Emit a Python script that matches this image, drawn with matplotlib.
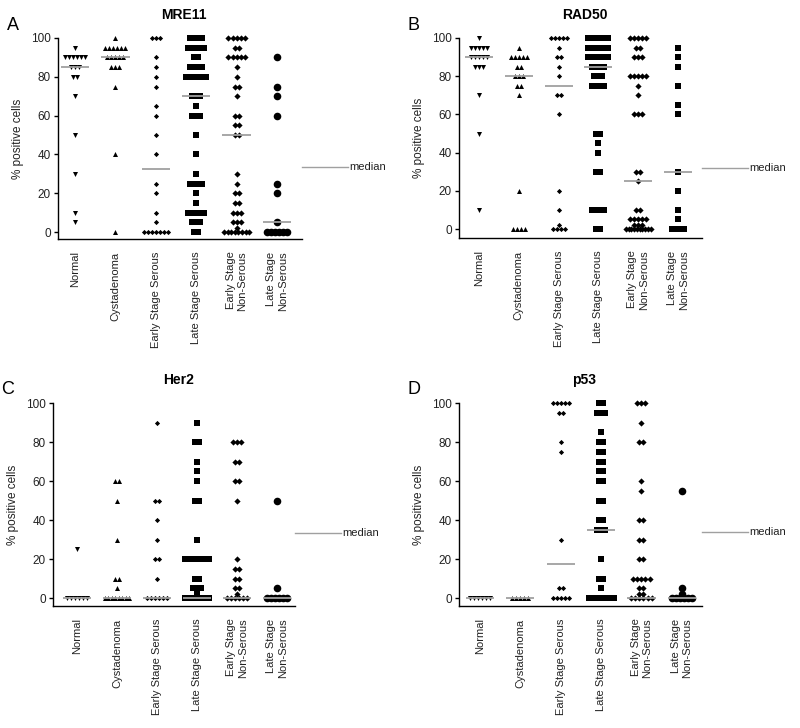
import numpy as np
import matplotlib.pyplot as plt
from matplotlib.lines import Line2D

plt.rcParams['font.family'] = ['Liberation Sans', 'DejaVu Sans']

# categories shared by all four panels
groups = ['Normal', 'Cystadenoma', 'Early Stage Serous', 'Late Stage Serous',
          'Early Stage\nNon-Serous', 'Late Stage\nNon-Serous']

# % positive cells per sample
mre11 = [
    [95] + [90]*6 + [85]*3 + [80]*2 + [70, 50, 30, 10, 5],
    [100] + [95]*6 + [90]*5 + [85]*3 + [75, 40, 0],
    [100]*3 + [90, 85, 80, 75, 65, 60, 50, 40, 25, 20, 10, 5] + [0]*7,
    [100]*4 + [95]*5 + [90]*2 + [85]*4 + [80]*6 + [70]*3 + [65] + [60]*3
    + [50, 40, 30] + [25]*4 + [20, 15] + [10]*5 + [5]*3 + [0]*2,
    [100]*5 + [95]*2 + [90]*5 + [85, 80] + [75]*2 + [70] + [60]*2 + [55]*2
    + [50]*2 + [30, 25] + [20]*2 + [15]*2 + [10]*3 + [5]*3 + [2] + [0]*8,
    [90, 75, 70, 60, 25, 20, 5] + [0]*6,
]
rad50 = [
    [100] + [95]*5 + [90]*5 + [85]*3 + [70, 50, 10],
    [95] + [90]*5 + [85]*2 + [80]*3 + [75]*2 + [70, 20] + [0]*4,
    [100]*5 + [95] + [90]*2 + [85, 80] + [70]*2 + [60, 20, 10, 2] + [0]*4,
    [100]*6 + [95]*6 + [90]*6 + [85]*4 + [80]*3 + [75]*4 + [50]*2
    + [45, 40] + [30]*2 + [10]*4 + [0]*2,
    [100]*5 + [95]*2 + [90]*3 + [80]*5 + [75, 70] + [60]*3 + [30]*2 + [25]
    + [10]*2 + [5]*5 + [2]*3 + [0]*10,
    [95, 90, 85, 75, 65, 60, 30, 20, 10, 5] + [0]*4,
]
her2 = [
    [25] + [0]*6,
    [60]*2 + [50, 30] + [10]*2 + [5] + [0]*8,
    [90] + [50]*2 + [40, 30] + [20]*2 + [10] + [0]*6,
    [90] + [80]*2 + [70, 65, 60] + [50]*2 + [30] + [20]*7 + [10]*2 + [5]*3
    + [2] + [0]*12,
    [80]*3 + [70]*2 + [60]*2 + [50, 20] + [15]*2 + [10]*2 + [5]*2 + [2] + [0]*6,
    [50, 5] + [0]*6,
]
p53 = [
    [0]*6,
    [0]*5,
    [100]*5 + [95]*2 + [80, 75, 30] + [5]*2 + [0]*5,
    [100]*2 + [95]*3 + [85] + [80]*2 + [75]*2 + [70]*2 + [65]*2 + [60]*2
    + [50]*2 + [40]*2 + [35]*3 + [20] + [10]*2 + [5] + [0]*12,
    [100]*3 + [90] + [80]*2 + [60, 55] + [40]*2 + [30]*2 + [20]*2 + [10]*5
    + [5]*2 + [2]*2 + [0]*6,
    [55, 5, 2] + [0]*6,
]

# medians as drawn
mre11_med = [85, 90, 32.5, 70, 50, 5]
rad50_med = [90, 80, 75, 85, 25, 30]
her2_med = [0, 0, 0, 0, 0, 0]
p53_med = [0, 0, 17.5, 35, 0, 0]

titles = ['MRE11', 'RAD50', 'Her2', 'p53']
letters = ['A', 'B', 'C', 'D']

W, H = 800, 728
# pixel layout: left, right, y of value 100, y of bottom spine
boxes = [(58, 302, 38, 239), (459, 702, 38, 238),
         (53, 295, 403, 606), (459, 702, 403, 606)]
xlims = [(-0.42, 5.62), (-0.5, 5.6), (-0.6, 5.45), (-0.52, 5.5)]
ylims = [(-3.6, 100), (-4.7, 100), (-4.1, 100), (-4.1, 100)]
median_y = [167, 168, 533, 532]

base_markers = ['v', '^', 'D', 's', 'D', 'o']
base_sizes = [13, 13, 7, 13, 10, 30]

fig = plt.figure(figsize=(W / 100, H / 100), dpi=100)


def swarm(ax, i, vals, marker, size):
    vals = np.array(vals, dtype=float)
    for v in np.unique(vals):
        n = int((vals == v).sum())
        step = 0.1 if n < 2 else min(0.1, 0.62 / (n - 1))
        xs = i + (np.arange(n) - (n - 1) / 2) * step
        ax.scatter(xs, [v] * n, marker=marker, s=size, color='black',
                   linewidths=0, clip_on=False, zorder=3)


for k, (data, meds) in enumerate(zip([mre11, rad50, her2, p53],
                                     [mre11_med, rad50_med, her2_med, p53_med])):
    l, r, t, b = boxes[k]
    ax = fig.add_axes([l / W, 1 - b / H, (r - l) / W, (b - t) / H])
    markers = list(base_markers)
    if k == 1:
        markers[5] = 's'
    for i, vals in enumerate(data):
        size = base_sizes[i] if markers[i] != 's' or i == 3 else 24
        swarm(ax, i, vals, markers[i], size)
        ax.hlines(meds[i], i - 0.35, i + 0.35, color='#a0a0a0', lw=1.3, zorder=4)

    ax.set_xlim(*xlims[k])
    ax.set_ylim(*ylims[k])
    ax.set_yticks([0, 20, 40, 60, 80, 100])
    ax.set_xticks(range(len(groups)))
    ax.set_xticklabels(groups, rotation=90, va='top', ha='center',
                       multialignment='right', fontsize=8, color='#222222')
    ax.tick_params(axis='x', length=0, pad=9)
    ax.tick_params(axis='y', length=3, width=1, labelsize=8.5, pad=2,
                   labelcolor='#222222')
    for s in ['top', 'right']:
        ax.spines[s].set_visible(False)
    for s in ['left', 'bottom']:
        ax.spines[s].set_linewidth(1)
    ax.set_ylabel('% positive cells', fontsize=8.5, labelpad=5, color='#222222')

    # title and panel letter
    cx = (l + r) / 2 / W + 0.005
    fig.text(cx, 1 - (t - 23) / H, titles[k], ha='center', va='center',
             fontsize=10, fontweight='bold')
    fig.text((l - 45) / W, 1 - (t - 13) / H, letters[k], ha='center',
             va='center', fontsize=13)

    # median key
    my = 1 - median_y[k] / H
    fig.add_artist(Line2D([r / W, (r + 46) / W], [my, my], color='#a0a0a0', lw=1))
    fig.text((r + 47) / W, my, 'median', ha='left', va='center', fontsize=8,
             color='#222222')

fig.savefig('out.png', dpi=100)
